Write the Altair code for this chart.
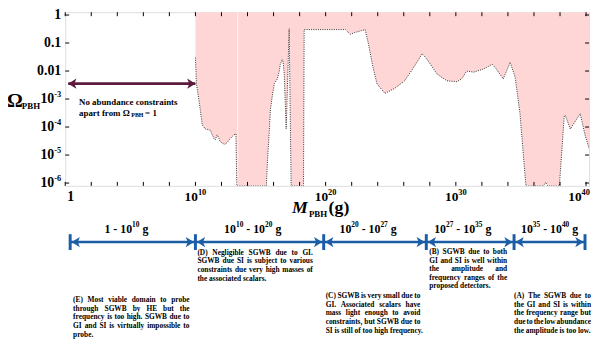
import altair as alt
import pandas as pd

# ---------------- data (log10 values) ----------------
# boundary of the excluded (pink) region: log10(M_PBH / g), log10(Omega_PBH)
bound_logM = [10.0, 10.08, 10.3, 10.53, 10.76, 11.14, 11.29, 11.44, 11.52, 11.67,
              11.82, 11.89, 12.12, 12.27, 12.5, 12.65, 12.8, 12.95, 13.11, 13.18,
              15.45, 15.53, 15.68, 15.76, 15.91, 16.06, 16.29, 16.44, 16.52, 16.67,
              16.74, 16.82, 16.97, 17.2, 17.35, 18.3, 18.35, 21.52, 21.89, 22.27,
              23.03, 23.26, 23.64, 23.94, 24.55, 25.3, 26.06, 26.82, 27.42, 27.8,
              28.56, 29.32, 30.08, 30.45, 30.83, 31.36, 32.12, 32.8, 33.11, 33.64,
              34.17, 34.55, 34.92, 35.38, 36.74, 36.89, 37.05, 37.95, 38.33, 38.41,
              38.79, 39.55, 39.92, 40.23]
bound_logO = [-1.52, -2.45, -3.14, -3.93, -4.07, -4.11, -4.28, -4.42, -4.45, -4.28,
              -4.42, -4.52, -4.59, -4.62, -4.52, -4.42, -4.35, -4.28, -4.24, -6.1,
              -6.1, -5.21, -4.07, -3.38, -2.87, -2.45, -2.28, -2.0, -1.76, -1.59,
              -1.69, -2.11, -4.07, -0.49, -6.1, -6.1, -0.52, -0.52, -0.69, -0.62,
              -0.52, -0.97, -1.87, -2.45, -2.8, -2.62, -2.35, -1.83, -1.38, -1.59,
              -2.11, -2.35, -2.38, -2.28, -2.0, -2.04, -1.93, -1.76, -1.93, -2.28,
              -1.69, -2.21, -3.49, -6.1, -6.1, -5.97, -6.1, -6.1, -3.59, -3.59,
              -4.07, -3.52, -4.28, -4.76]
# thin seam between two overlapping constraint regions
seam_logM = [13.25]

X_DOMAIN = [0, 40.23]
Y_DOMAIN = [-6.1, 0.1]
x_label_vals = [0, 10, 20, 30, 40]
x_tick_vals = list(range(0, 41, 2))
y_tick_vals = [-6, -5, -4, -3, -2, -1, 0]

# "no constraints" arrow (log10 M ends, log10 Omega level)
free_arrow_logM = [0.23, 10.0]
free_arrow_logO = -2.45

# mass ranges along the bottom (boundaries in log10 M as drawn)
range_edges = [0.38, 10.0, 19.85, 27.73, 34.47, 39.92]
range_label_pos = [4.7, 14.4, 23.26, 30.53, 37.2]
range_labels = [
    [("1 - 10", ""), ("10", "sup"), (" g", "")],
    [("10", ""), ("10", "sup"), (" - 10", ""), ("20", "sup"), (" g", "")],
    [("10", ""), ("20", "sup"), (" - 10", ""), ("27", "sup"), (" g", "")],
    [("10", ""), ("27", "sup"), (" - 10", ""), ("35", "sup"), (" g", "")],
    [("10", ""), ("35", "sup"), (" - 10", ""), ("40", "sup"), (" g", "")],
]

desc_E = ["(E) Most viable domain to probe", "through SGWB by HE but the",
          "frequency is too high. SGWB due to", "GI and SI is virtually impossible to",
          "probe."]
desc_D = ["(D) Negligible SGWB due to GI.", "SGWB due SI is subject to various",
          "constraints due very high masses of", "the associated scalars."]
desc_C = ["(C) SGWB is very small due to", "GI. Associated scalars have",
          "mass light enough to avoid", "constraints, but SGWB due to",
          "SI is still of too high frequency."]
desc_B = ["(B) SGWB due to both", "GI and SI is well within",
          "the amplitude and", "frequency ranges of the", "proposed detectors."]
desc_A = ["(A) The SGWB due to", "the GI and SI is within",
          "the frequency range but", "due to the low abundance",
          "the amplitude is too low."]

# ---------------- styling ----------------
W, H = 531, 176
SERIF = "Liberation Serif"
PINK = "#ffd6d6"
MAROON = "#5c1a3c"
BLUE = "#1c5ea6"
HEAD_R = "M 1 0 L -0.6 -1 L -0.2 0 L -0.6 1 Z"
PXX = W / (X_DOMAIN[1] - X_DOMAIN[0])      # pixels per x unit
PXY = H / (Y_DOMAIN[1] - Y_DOMAIN[0])      # pixels per y unit

# Times-Bold advance widths (1/1000 em) for laying out rich / justified text
_w = {" ": 250, "!": 333, "(": 333, ")": 333, ",": 250, "-": 333, ".": 250, "=": 570,
      "A": 722, "B": 667, "C": 722, "D": 722, "E": 667, "F": 611, "G": 778, "H": 778,
      "I": 389, "J": 500, "K": 778, "L": 667, "M": 944, "N": 722, "O": 778, "P": 611,
      "Q": 778, "R": 722, "S": 556, "T": 667, "U": 722, "V": 722, "W": 1000, "X": 722,
      "Y": 722, "Z": 667, "a": 500, "b": 556, "c": 444, "d": 556, "e": 444, "f": 333,
      "g": 500, "h": 556, "i": 278, "j": 333, "k": 556, "l": 278, "m": 833, "n": 556,
      "o": 500, "p": 556, "q": 556, "r": 444, "s": 389, "t": 333, "u": 556, "v": 500,
      "w": 722, "x": 500, "y": 500, "z": 444, "Ω": 770}


def em(s):
    return sum(_w.get(c, 500) for c in s) / 1000.0


def rich(pieces, align):
    """pieces: list of (text, size, dy_px); returns list of (dx_px, dy_px, text, size)"""
    widths = [em(t) * fs for t, fs, _ in pieces]
    total = sum(widths)
    cx = {"left": 0.0, "center": -total / 2, "right": -total}[align]
    out = []
    for (t, fs, dy), w in zip(pieces, widths):
        lead = len(t) - len(t.lstrip(" "))
        out.append((cx + lead * 0.25 * fs, dy, t.strip(" "), fs))
        cx += w
    return out


bound = pd.DataFrame({"logM": bound_logM, "logO": bound_logO})
xs = alt.Scale(domain=X_DOMAIN, nice=False, zero=False)
ys = alt.Scale(domain=Y_DOMAIN, nice=False, zero=False)

area = alt.Chart(bound).mark_area(color=PINK, opacity=1, clip=True).encode(
    x=alt.X("logM:Q", scale=xs, axis=None),
    y=alt.Y("logO:Q", scale=ys, axis=None),
    y2=alt.datum(Y_DOMAIN[1]),
)
seam = alt.Chart(pd.DataFrame({"s": seam_logM})).mark_rule(
    color="white", strokeWidth=0.8, opacity=0.9).encode(x="s:Q")
line = alt.Chart(bound).mark_line(color="#333333", strokeWidth=1, strokeDash=[1, 1.3],
                                  clip=True).encode(x="logM:Q", y="logO:Q")

# inward ticks on all four sides
xt = pd.DataFrame({"t": x_tick_vals})
yt = pd.DataFrame({"t": y_tick_vals})
tick_style = dict(color="black", strokeWidth=1)
ticks = [
    alt.Chart(xt).mark_rule(**tick_style).encode(x="t:Q", y=alt.value(H), y2=alt.value(H - 4)),
    alt.Chart(xt).mark_rule(**tick_style).encode(x="t:Q", y=alt.value(0), y2=alt.value(4)),
    alt.Chart(yt).mark_rule(**tick_style).encode(y="t:Q", x=alt.value(0), x2=alt.value(4)),
    alt.Chart(yt).mark_rule(**tick_style).encode(y="t:Q", x=alt.value(W - 4), x2=alt.value(W)),
]

# ---- tick labels with real superscripts (placed through the scales) ----
xl_rows = []
for v in x_label_vals:
    if v == 0:
        parts = rich([("1", 14, 0)], "left")
        shift = 2
    else:
        align = "right" if v == x_label_vals[-1] else "center"
        parts = rich([("10", 13.5, 0), (str(v), 8.5, -5)], align)
        shift = 4 if align == "right" else 0
    for dx, dy, t, fs in parts:
        xl_rows.append({"x": v + (dx + shift) / PXX, "y": H + 11 + dy, "t": t, "fs": fs})

yl_rows = []
for v in y_tick_vals:
    if v >= -2:
        parts = rich([({0: "1", -1: "0.1", -2: "0.01"}[v], 14, 0)], "right")
    else:
        parts = rich([("10", 14, 0), (str(v), 8.5, -5)], "right")
    for dx, dy, t, fs in parts:
        yl_rows.append({"x": -4 + dx, "y": v - dy / PXY, "t": t, "fs": fs})

tstyle = dict(font=SERIF, fontWeight="bold", color="black", align="left", baseline="middle")
x_labels = alt.Chart(pd.DataFrame(xl_rows)).mark_text(**tstyle).encode(
    x="x:Q", y=alt.Y("y:Q", scale=None), text="t:N", size=alt.Size("fs:Q", scale=None))
y_labels = alt.Chart(pd.DataFrame(yl_rows)).mark_text(**tstyle).encode(
    x=alt.X("x:Q", scale=None), y="y:Q", text="t:N", size=alt.Size("fs:Q", scale=None))

# ---- maroon double arrow ----
fa = pd.DataFrame({"x": [free_arrow_logM[0]], "x2": [free_arrow_logM[1]], "y": [free_arrow_logO]})
fa_line = alt.Chart(fa).mark_rule(color=MAROON, strokeWidth=3).encode(x="x:Q", x2="x2:Q", y="y:Q")
fa_r = alt.Chart(fa).mark_point(shape=HEAD_R, size=110, filled=True, color=MAROON,
                                opacity=1, xOffset=-5.2).encode(x="x2:Q", y="y:Q")
fa_l = alt.Chart(fa).mark_point(shape=HEAD_R, size=110, filled=True, color=MAROON,
                                opacity=1, angle=180, xOffset=5.2).encode(x="x:Q", y="y:Q")

# ---- free-positioned texts (plot-pixel coordinates) ----
px_rows = []


def add(pieces, x0, y0, align="left"):
    for dx, dy, t, fs in rich(pieces, align):
        px_rows.append({"x": x0 + dx, "y": y0 + dy, "t": t, "fs": fs})


add([("No abundance constraints", 9, 0)], 14, 91)
add([("apart from Ω", 9, 0)], 14, 102)
add([("PBH", 6, 2)], 67, 102)
add([("= 1", 9, 0)], 81, 102)
add([("Ω", 20, 0)], -59, 90)
add([("PBH", 9, 5)], -44, 90)
add([("PBH", 9, 6)], 247, 199)
add([("(g)", 18, 0)], 267, 199)

px_text = alt.Chart(pd.DataFrame(px_rows)).mark_text(**tstyle).encode(
    x=alt.X("x:Q", scale=None), y=alt.Y("y:Q", scale=None), text="t:N",
    size=alt.Size("fs:Q", scale=None))
m_title = alt.Chart().mark_text(text="M", fontSize=18, font=SERIF, fontWeight="bold",
                                fontStyle="italic", color="black", align="left",
                                baseline="middle").encode(x=alt.value(230), y=alt.value(199))

# ---- bottom mass ranges ----
seg = pd.DataFrame({"a": range_edges[:-1], "b": range_edges[1:]})
edges = pd.DataFrame({"e": range_edges})
AY = 233
seg_line = alt.Chart(seg).mark_rule(color=BLUE, strokeWidth=2.5).encode(
    x="a:Q", x2="b:Q", y=alt.value(AY))
seg_bar = alt.Chart(edges).mark_rule(color=BLUE, strokeWidth=3).encode(
    x="e:Q", y=alt.value(AY - 8), y2=alt.value(AY + 8))
seg_r = alt.Chart(seg).mark_point(shape=HEAD_R, size=110, filled=True, color=BLUE,
                                  opacity=1, xOffset=-6.7).encode(x="b:Q", y=alt.value(AY))
seg_l = alt.Chart(seg).mark_point(shape=HEAD_R, size=110, filled=True, color=BLUE,
                                  opacity=1, angle=180, xOffset=6.7).encode(x="a:Q", y=alt.value(AY))

rl_rows = []
for pos, lab in zip(range_label_pos, range_labels):
    pieces = [(t, 12, 0) if k == "" else (t, 7.5, -4) for t, k in lab]
    for dx, dy, t, fs in rich(pieces, "center"):
        rl_rows.append({"x": pos + dx / PXX, "y": 220 + dy, "t": t, "fs": fs})
seg_t = alt.Chart(pd.DataFrame(rl_rows)).mark_text(**tstyle).encode(
    x="x:Q", y=alt.Y("y:Q", scale=None), text="t:N", size=alt.Size("fs:Q", scale=None))

# ---- justified description paragraphs ----
DFS = 7.5
LH = 8.7
blocks = [  # lines, left x, block width, first-line centre y (plot px)
    (desc_E, 8, 118, 292),
    (desc_D, 134, 117, 244),
    (desc_C, 264, 96, 288),
    (desc_B, 369, 79, 243),
    (desc_A, 455, 78, 288),
]
left_words, right_words = [], []
for lines, bx, bw, by in blocks:
    for i, ln in enumerate(lines):
        y = by + i * LH
        words = ln.split()
        if i == len(lines) - 1 or len(words) == 1:
            left_words.append({"x": bx, "y": y, "t": ln})
            continue
        ws = [em(w) * DFS for w in words]
        gap = (bw - sum(ws)) / (len(words) - 1)
        cx = bx
        for j, (w, wd) in enumerate(zip(words, ws)):
            if j == len(words) - 1:
                right_words.append({"x": bx + bw, "y": y, "t": w})
            else:
                left_words.append({"x": cx, "y": y, "t": w})
            cx += wd + gap

dstyle = dict(font=SERIF, fontWeight="bold", fontSize=DFS, color="black", baseline="middle")
desc_l = alt.Chart(pd.DataFrame(left_words)).mark_text(align="left", **dstyle).encode(
    x=alt.X("x:Q", scale=None), y=alt.Y("y:Q", scale=None), text="t:N")
desc_r = alt.Chart(pd.DataFrame(right_words)).mark_text(align="right", **dstyle).encode(
    x=alt.X("x:Q", scale=None), y=alt.Y("y:Q", scale=None), text="t:N")

chart = alt.layer(
    area, seam, line, *ticks, x_labels, y_labels, fa_line, fa_r, fa_l, px_text, m_title,
    seg_line, seg_bar, seg_r, seg_l, seg_t, desc_l, desc_r
).properties(
    width=W, height=H,
    autosize=alt.AutoSizeParams(type="none"),
    padding={"left": 58, "top": 2, "right": 4, "bottom": 156},
).configure_view(stroke="black", strokeWidth=1.5).configure(background="white")

chart.save("out.html", embed_options={"renderer": "svg", "actions": False})
